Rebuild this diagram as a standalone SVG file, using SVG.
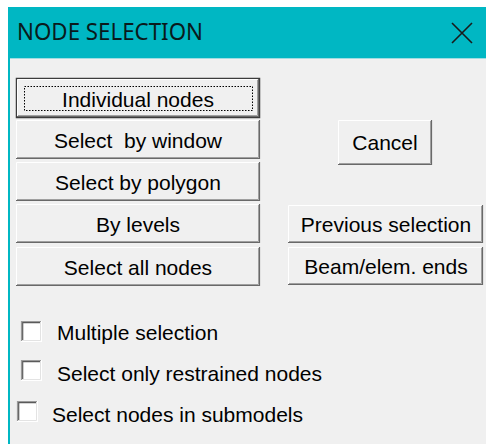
<svg xmlns="http://www.w3.org/2000/svg" width="486" height="444" viewBox="0 0 486 444">
<style>
.face{fill:#f0f0f0}
.hl{fill:none;stroke:#ffffff;stroke-width:1}
.sh1{fill:none;stroke:#a0a0a0;stroke-width:1}
.sh2{fill:none;stroke:#696969;stroke-width:1.2}
.lbl{font-family:"Liberation Sans",Arial,sans-serif;font-size:21px;fill:#000}
.btn{text-anchor:middle}
.cbf{fill:#ffffff}
.cbo{fill:none;stroke:#9a9a9a;stroke-width:1.2}
.cbi{fill:none;stroke:#5a5a5a;stroke-width:1.2}
.cbw{fill:none;stroke:#ffffff;stroke-width:1}
.cbl{fill:none;stroke:#e3e3e3;stroke-width:1}
</style>
<rect x="0" y="0" width="486" height="444" fill="#ffffff"/>
<g id="window">
<rect x="8" y="7" width="478" height="51" fill="#00b7c3"/>
<rect x="8" y="7" width="2" height="437" fill="#00b7c3"/>
<rect x="10" y="58" width="476" height="386" fill="#f0f0f0"/>
<line x1="10" y1="58.5" x2="486" y2="58.5" stroke="#9fdde2" stroke-width="1"/>
<text x="17" y="40" font-family="'Noto Sans','Liberation Sans',sans-serif" font-size="23" fill="#0a1a1c" textLength="186" lengthAdjust="spacingAndGlyphs">NODE SELECTION</text>
<path d="M452 23 L472 43 M472 23 L452 43" stroke="#1a1a1a" stroke-width="1.6" fill="none"/>
</g>
<g id="btn-individual">
<rect x="16.5" y="78.5" width="243" height="39" fill="#f0f0f0" stroke="#3c3c3c" stroke-width="1.5"/>
<path class="hl" d="M17.5 116 V79.5 H258"/>
<path class="sh2" d="M17 116.5 H258.5 V79"/>
<path class="sh1" d="M18 115.5 H257.5 V80"/>
<rect x="24.5" y="86.5" width="228" height="24" fill="none" stroke="#000" stroke-width="1" stroke-dasharray="1.5 1.5"/>
<text class="lbl btn" x="138" y="107">Individual nodes</text>
</g>
<g id="btn-window">
<rect class="face" x="16" y="120" width="244" height="39"/>
<path class="hl" d="M16.5 158 V120.5 H259"/>
<path class="sh2" d="M16 158.5 H259.5 V120"/>
<path class="sh1" d="M17 157.5 H258.5 V121"/>
<text class="lbl btn" x="138" y="148" xml:space="preserve">Select  by window</text>
</g>
<g id="btn-polygon">
<rect class="face" x="16" y="162" width="244" height="39"/>
<path class="hl" d="M16.5 200 V162.5 H259"/>
<path class="sh2" d="M16 200.5 H259.5 V162"/>
<path class="sh1" d="M17 199.5 H258.5 V163"/>
<text class="lbl btn" x="138" y="190">Select by polygon</text>
</g>
<g id="btn-levels">
<rect class="face" x="16" y="204" width="244" height="39"/>
<path class="hl" d="M16.5 242 V204.5 H259"/>
<path class="sh2" d="M16 242.5 H259.5 V204"/>
<path class="sh1" d="M17 241.5 H258.5 V205"/>
<text class="lbl btn" x="138" y="232">By levels</text>
</g>
<g id="btn-all">
<rect class="face" x="16" y="247" width="244" height="39"/>
<path class="hl" d="M16.5 285 V247.5 H259"/>
<path class="sh2" d="M16 285.5 H259.5 V247"/>
<path class="sh1" d="M17 284.5 H258.5 V248"/>
<text class="lbl btn" x="138" y="275">Select all nodes</text>
</g>
<g id="btn-cancel">
<rect class="face" x="338" y="120" width="94" height="45"/>
<path class="hl" d="M338.5 164 V120.5 H431"/>
<path class="sh2" d="M338 164.5 H431.5 V120"/>
<path class="sh1" d="M339 163.5 H430.5 V121"/>
<text class="lbl btn" x="385" y="150">Cancel</text>
</g>
<g id="btn-previous">
<rect class="face" x="288" y="205" width="195" height="38"/>
<path class="hl" d="M288.5 242 V205.5 H482"/>
<path class="sh2" d="M288 242.5 H482.5 V205"/>
<path class="sh1" d="M289 241.5 H481.5 V206"/>
<text class="lbl btn" x="386" y="232">Previous selection</text>
</g>
<g id="btn-beam">
<rect class="face" x="288" y="247" width="195" height="38"/>
<path class="hl" d="M288.5 284 V247.5 H482"/>
<path class="sh2" d="M288 284.5 H482.5 V247"/>
<path class="sh1" d="M289 283.5 H481.5 V248"/>
<text class="lbl btn" x="386" y="274">Beam/elem. ends</text>
</g>
<g id="chk-multiple">
<rect class="cbf" x="21" y="321" width="21" height="21"/>
<path class="cbo" d="M21.5 341 V321.5 H41"/>
<path class="cbi" d="M22.7 340 V322.7 H40"/>
<path class="cbw" d="M21 341.5 H41.5 V321"/>
<path class="cbl" d="M22 340.5 H40.5 V322"/>
<text class="lbl" x="57" y="340">Multiple selection</text>
</g>
<g id="chk-restrained">
<rect class="cbf" x="21" y="360" width="21" height="21"/>
<path class="cbo" d="M21.5 380 V360.5 H41"/>
<path class="cbi" d="M22.7 379 V361.7 H40"/>
<path class="cbw" d="M21 380.5 H41.5 V360"/>
<path class="cbl" d="M22 379.5 H40.5 V361"/>
<text class="lbl" x="57" y="381">Select only restrained nodes</text>
</g>
<g id="chk-submodels">
<rect class="cbf" x="17" y="401" width="21" height="21"/>
<path class="cbo" d="M17.5 421 V401.5 H37"/>
<path class="cbi" d="M18.7 420 V402.7 H36"/>
<path class="cbw" d="M17 421.5 H37.5 V401"/>
<path class="cbl" d="M18 420.5 H36.5 V402"/>
<text class="lbl" x="52" y="422">Select nodes in submodels</text>
</g>
</svg>
